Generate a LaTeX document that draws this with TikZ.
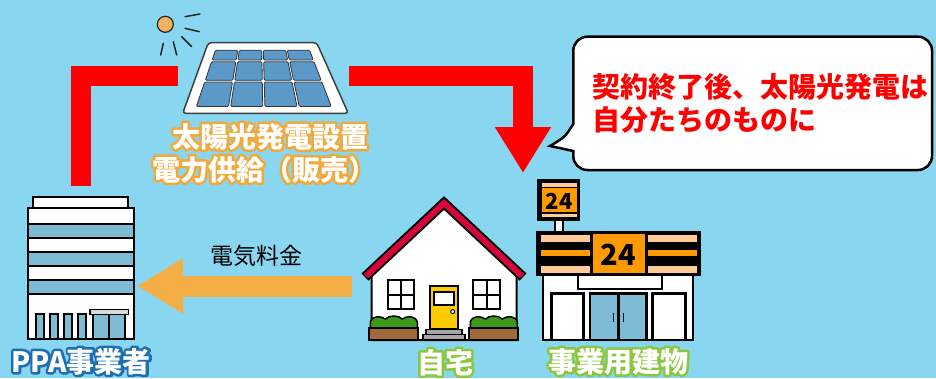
\documentclass[tikz,border=0pt]{standalone}
\usepackage{fontspec}
\setmainfont{Noto Sans CJK JP}
\usepackage{xcolor}
\usetikzlibrary{arrows.meta, calc, positioning}

\definecolor{sky}{RGB}{137,214,241}
\definecolor{flowred}{RGB}{255,0,0}
\definecolor{payorange}{RGB}{243,174,69}
\definecolor{panelblue}{RGB}{91,153,201}
\definecolor{glassblue}{RGB}{125,188,212}
\definecolor{roofred}{RGB}{215,6,58}
\definecolor{dooryellow}{RGB}{255,204,0}
\definecolor{bushgreen}{RGB}{60,154,26}
\definecolor{soilbrown}{RGB}{160,105,58}
\definecolor{signorange}{RGB}{255,153,0}
\definecolor{signpeach}{RGB}{255,204,153}
\definecolor{sunorange}{RGB}{245,178,95}
\definecolor{lineorange}{RGB}{242,169,59}
\definecolor{lineblue}{RGB}{30,110,181}
\definecolor{linegreen}{RGB}{140,198,63}

% stroked glyph outline under the filled text
\newcommand{\rimtext}[2]{\leavevmode\rlap{\special{pdf:code 1 Tr 5 w 1 j}\textcolor{#1}{#2}\special{pdf:code 0 Tr}}#2}

\tikzstyle{redflow} = [line width=20pt, draw=flowred]
\tikzstyle{payflow} = [line width=21pt, draw=payorange, -{Triangle[width=52pt,length=46pt]}]
\tikzstyle{outlined} = [line width=2pt, draw=black]
\tikzstyle{wall} = [outlined, fill=white]
\tikzstyle{glass} = [outlined, fill=glassblue]
\tikzstyle{cell} = [fill=panelblue, draw=black!80, line width=0.8pt, rounded corners=1.2pt]
\tikzstyle{ray} = [line width=1.5pt, draw=black!85, line cap=round]
\tikzstyle{caption} = [text=white, font=\bfseries\fontsize{28}{32}\selectfont, inner sep=0, anchor=base]
\tikzstyle{note} = [text=flowred, font=\bfseries\fontsize{28}{34}\selectfont, inner sep=0, anchor=base west]
\tikzstyle{digits} = [text=black, font=\bfseries, inner sep=0, anchor=base]

\begin{document}
\begin{tikzpicture}[x=1pt, y=-1pt]
    \fill[sky] (0,0) rectangle (936,378);
    \useasboundingbox (0,0) rectangle (936,378);

    % connector ends
    \coordinate (ppatop) at (80.7,186);
    \coordinate (ppaside) at (137,286);
    \coordinate (panelW) at (178,76);
    \coordinate (panelE) at (349,76);
    \coordinate (storetop) at (523,173);
    \coordinate (homeside) at (352,286);

    % office building
    \filldraw[wall] (33.3,197.3) rectangle (128.3,208.3);
    \filldraw[wall] (27.7,208.3) rectangle (134.3,339.3);
    \foreach \y in {224,252,280}
        \filldraw[glass] (27.7,\y) rectangle (134.3,\y+14);
    \foreach \x in {35.7,50,63.7,77.7}
        \filldraw[glass] (\x,314.3) rectangle (\x+7.8,339.3);
    \filldraw[glass] (93.3,314.3) rectangle (125,339.3);
    \draw[outlined] (109.2,314.3) -- (109.2,339.3);
    \filldraw[outlined, fill=black!15, line width=1.5pt] (90,309.3) rectangle (128.3,314.3);
    \node (ppa) [caption] at (81,372) {\rimtext{lineblue}{PPA事業者}};

    % sun
    \filldraw[fill=sunorange, draw=black!85, line width=1.2pt] (165.3,24.3) circle (8);
    \draw[ray] (185,16.7) -- (200,14);
    \draw[ray] (185,28.3) -- (199.3,31.7);
    \draw[ray] (181.7,36.7) -- (191.7,46.7);
    \draw[ray] (173.3,41.7) -- (176.7,55);
    \draw[ray] (163.3,43.3) -- (160.7,55);

    % solar panel
    \filldraw[fill=white, draw=black!75, line width=1.5pt, rounded corners=3pt]
        (208.3,42.7) -- (316.7,42.7) -- (348.3,113.3) -- (182.7,113.3) -- cycle;
    \coordinate (pTL) at (215,49.3);
    \coordinate (pTR) at (310,49.3);
    \coordinate (pBR) at (332.7,107.3);
    \coordinate (pBL) at (195,107.3);
    \foreach \va/\vb in {0/0.2, 0.2/0.55, 0.55/1} {
        \foreach \ua/\ub in {0/0.25, 0.25/0.5, 0.5/0.75, 0.75/1} {
            \pgfmathsetmacro{\vA}{\va+0.015}
            \pgfmathsetmacro{\vB}{\vb-0.015}
            \pgfmathsetmacro{\uA}{\ua+0.008}
            \pgfmathsetmacro{\uB}{\ub-0.008}
            \filldraw[cell]
                ($($(pTL)!\vA!(pBL)$)!\uA!($(pTR)!\vA!(pBR)$)$) --
                ($($(pTL)!\vA!(pBL)$)!\uB!($(pTR)!\vA!(pBR)$)$) --
                ($($(pTL)!\vB!(pBL)$)!\uB!($(pTR)!\vB!(pBR)$)$) --
                ($($(pTL)!\vB!(pBL)$)!\uA!($(pTR)!\vB!(pBR)$)$) -- cycle;
        }
    }
    \node (solarA) [caption] at (270,147) {\rimtext{lineorange}{太陽光発電設置}};
    \node (solarB) [caption] at (264,180) {\rimtext{lineorange}{電力供給（販売）}};

    % house
    \filldraw[wall] (371.7,340) -- (371.7,271) -- (444,203) -- (516.7,271) -- (516.7,340) -- cycle;
    \draw[line width=10pt, draw=black] (365,277) -- (444,203) -- (523,277);
    \draw[line width=6pt, draw=roofred] (365.9,276.2) -- (444,203) -- (522.1,276.2);
    \foreach \x in {387.7,473.3} {
        \filldraw[wall] (\x,280) rectangle (\x+26.5,309.3);
        \draw[outlined] (\x+13.25,280) -- (\x+13.25,309.3);
        \draw[outlined] (\x,294.6) -- (\x+26.5,294.6);
    }
    \filldraw[outlined, fill=dooryellow] (430,286) rectangle (458.3,329.3);
    \filldraw[wall] (434.3,292) rectangle (454.3,305);
    \filldraw[outlined, fill=white, line width=1pt] (452.7,311.7) circle (2);
    \filldraw[outlined, fill=black!35, line width=1.2pt] (426,329.3) rectangle (462,334.6);
    \filldraw[outlined, fill=black!35, line width=1.2pt] (423,334.6) rectangle (465,340);
    \foreach \x in {369.3,469.3} {
        \filldraw[outlined, fill=bushgreen, line width=1.5pt] (\x+1,328.3) -- (\x+1,322)
            .. controls (\x+3,315.5) and (\x+11,315.5) .. (\x+16,319)
            .. controls (\x+20,315) and (\x+29,315) .. (\x+33,319)
            .. controls (\x+38,315.5) and (\x+46,315.5) .. (\x+48,322) -- (\x+48,328.3) -- cycle;
        \filldraw[outlined, fill=soilbrown] (\x,328.3) rectangle (\x+49,340);
    }
    \node (home) [caption] at (445,373) {\rimtext{linegreen}{自宅}};

    % convenience store
    \filldraw[outlined, fill=white] (555,218) rectangle (563.3,233);
    \filldraw[outlined, fill=black] (538.3,180) rectangle (579.3,220);
    \fill[signpeach] (541.7,183.3) rectangle (576.7,186.7);
    \fill[signorange] (541.7,188.3) rectangle (576.7,211.7);
    \fill[signpeach] (541.7,214) rectangle (576.7,217.3);
    \node (pole24) [digits, font=\bfseries\fontsize{22}{22}\selectfont] at (559,209.3) {24};
    \filldraw[wall] (543.3,275) rectangle (693.3,340);
    \filldraw[wall] (578.3,275) rectangle (661.7,289.3);
    \filldraw[wall, line width=2.5pt] (551.7,293.3) rectangle (583.3,340);
    \filldraw[wall, line width=2.5pt] (652.7,293.3) rectangle (685.7,340);
    \filldraw[glass, line width=2.5pt] (590,293.3) rectangle (646.7,340);
    \draw[outlined, line width=2.5pt] (618.3,293.3) -- (618.3,340);
    \draw[outlined, line width=1.8pt] (613.5,313.3) -- (613.5,321.7);
    \draw[outlined, line width=1.8pt] (623.5,313.3) -- (623.5,321.7);
    \filldraw[outlined, fill=black] (537.3,231.7) rectangle (700,275);
    \foreach \xa/\xb in {540.7/590, 647.7/696.7} {
        \fill[signpeach] (\xa,235) rectangle (\xb,241.7);
        \fill[signorange] (\xa,250) rectangle (\xb,256);
        \fill[signpeach] (\xa,265.7) rectangle (\xb,272.7);
    }
    \fill[signorange] (592.7,234.3) rectangle (645,272.7);
    \node (store24) [digits, font=\bfseries\fontsize{29}{29}\selectfont] at (618.5,265) {24};
    \node (store) [caption] at (618,372) {\rimtext{linegreen}{事業用建物}};

    % speech bubble
    \filldraw[fill=white, draw=black, line width=2.5pt]
        (573.3,124) [rounded corners=14pt] -- (573.3,36.7) -- (932,36.7) -- (932,170) -- (573.3,170)
        [sharp corners] -- (573.3,151) -- (550,146) .. controls (565,137) .. (573.3,124) -- cycle;
    \node (msgA) [note] at (592,97) {契約終了後、太陽光発電は};
    \node (msgB) [note] at (592,130.5) {自分たちのものに};

    % flows
    \draw[redflow] (ppatop) |- (panelW);
    \draw[redflow, -{Triangle[width=53pt,length=46pt]}] (panelE) -| (storetop);
    \draw[payflow] (homeside) -- (ppaside);
    \node (fee) [font=\fontsize{23}{23}\selectfont, inner sep=0, anchor=base] at (256,264) {電気料金};
\end{tikzpicture}
\end{document}
